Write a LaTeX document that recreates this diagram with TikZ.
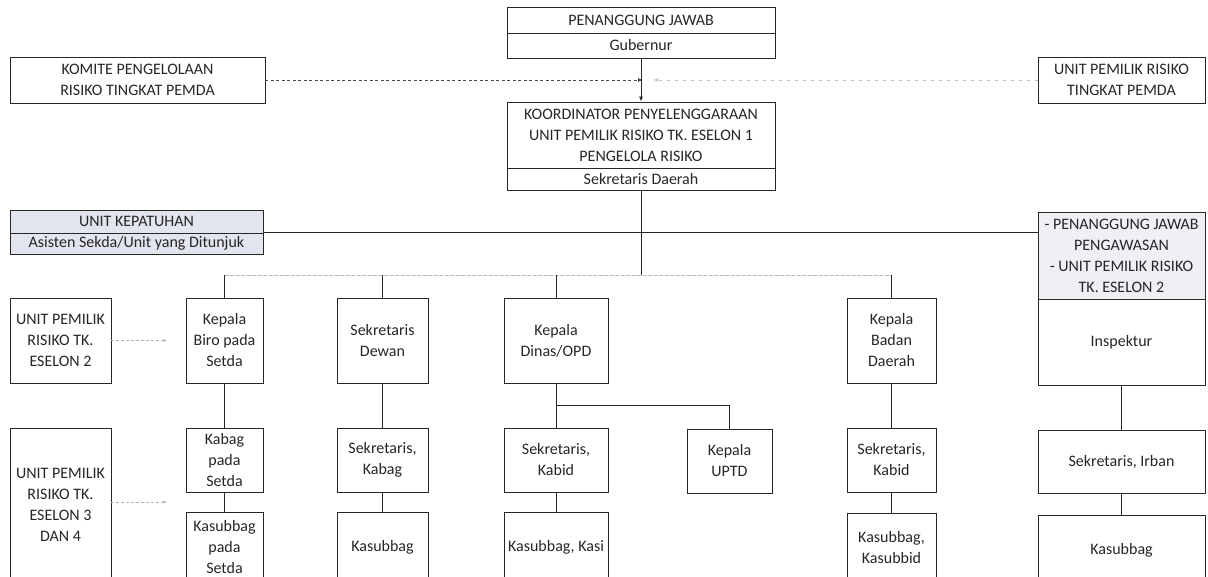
\documentclass[tikz,border=0pt]{standalone}
\usepackage{fontspec}
\setmainfont{Carlito}
\usetikzlibrary{arrows.meta}

\definecolor{inkgray}{HTML}{262626}
\definecolor{kepfill}{HTML}{E2E4EE}
\definecolor{pengfill}{HTML}{EEF0F5}

\tikzset{
  unitbox/.style={draw=inkgray, line width=0.9pt, align=center, inner sep=2pt,
    text=inkgray, font=\fontsize{16}{21}\selectfont},
  link/.style={draw=inkgray, line width=0.9pt},
  busline/.style={draw=gray!55, line width=0.7pt, dash pattern=on 4pt off 1.5pt},
  komiteline/.style={draw=inkgray!85, line width=0.8pt, dash pattern=on 3pt off 2.5pt},
  pemdaline/.style={draw=gray!45, line width=0.8pt, dash pattern=on 3pt off 5pt},
  sidearrow/.style={draw=gray!60, line width=0.7pt, dash pattern=on 2.5pt off 2.5pt,
    -{Latex[length=4pt,width=3pt]}}
}

\begin{document}
\begin{tikzpicture}[x=1pt,y=-1pt]
\useasboundingbox (0,0) rectangle (1208,577);
\clip (0,0) rectangle (1208,577);

%top
\node[unitbox, minimum width=268pt, minimum height=26pt] (pj) at (641,20) {PENANGGUNG JAWAB};
\node[unitbox, minimum width=268pt, minimum height=25pt] (gub) at (641,45.5) {Gubernur};
\node[unitbox, minimum width=255pt, minimum height=46pt] (komite) at (137.5,80) {KOMITE PENGELOLAAN\\RISIKO TINGKAT PEMDA};
\node[unitbox, minimum width=167pt, minimum height=46pt] (upr) at (1121.5,80) {UNIT PEMILIK RISIKO\\TINGKAT PEMDA};
\node[unitbox, minimum width=268pt, minimum height=66pt] (koord) at (641,135) {KOORDINATOR PENYELENGGARAAN\\UNIT PEMILIK RISIKO TK. ESELON 1\\PENGELOLA RISIKO};
\node[unitbox, minimum width=268pt, minimum height=22pt] (sekda) at (641,179) {Sekretaris Daerah};
\coordinate (komitetip) at (643,80);
\coordinate (pemdatip) at (653,80);

%middle band
\node[unitbox, fill=kepfill, minimum width=253pt, minimum height=23pt] (kep) at (136.5,221.5) {UNIT KEPATUHAN};
\node[unitbox, fill=kepfill, minimum width=253pt, minimum height=21pt] (asisten) at (136.5,243.5) {Asisten Sekda/Unit yang Ditunjuk};
\node[unitbox, fill=pengfill, minimum width=167pt, minimum height=87pt] (pengawas) at (1121.5,255.5) {- PENANGGUNG JAWAB\\PENGAWASAN\\- UNIT PEMILIK RISIKO\\TK. ESELON 2};
\node[unitbox, minimum width=167pt, minimum height=86pt] (inspektur) at (1121.5,342) {Inspektur};
\coordinate (bus) at (0,275);

%left column
\node[unitbox, minimum width=101pt, minimum height=85pt] (esl2) at (60.5,340.5) {UNIT PEMILIK\\RISIKO TK.\\ESELON 2};
\node[unitbox, minimum width=101pt, minimum height=154pt] (esl34) at (60.5,505) {UNIT PEMILIK\\RISIKO TK.\\ESELON 3\\DAN 4};
\coordinate (esl2tip) at (167,340.5);
\coordinate (esl34tip) at (167,502);

%first row
\node[unitbox, minimum width=77pt, minimum height=85pt] (biro) at (224.5,340.5) {Kepala\\Biro pada\\Setda};
\node[unitbox, minimum width=91pt, minimum height=85pt] (dewan) at (382.5,340.5) {Sekretaris\\Dewan};
\node[unitbox, minimum width=104pt, minimum height=85pt] (dinas) at (556,340.5) {Kepala\\Dinas/OPD};
\node[unitbox, minimum width=89pt, minimum height=85pt] (badan) at (891.5,340.5) {Kepala\\Badan\\Daerah};

%second row
\node[unitbox, minimum width=77pt, minimum height=64pt] (kabag) at (224.5,460) {Kabag\\pada\\Setda};
\node[unitbox, minimum width=91pt, minimum height=64pt] (dewkabag) at (382.5,460) {Sekretaris,\\Kabag};
\node[unitbox, minimum width=104pt, minimum height=64pt] (dinkabid) at (556,460) {Sekretaris,\\Kabid};
\node[unitbox, minimum width=85pt, minimum height=64pt] (uptd) at (729.5,461) {Kepala\\UPTD};
\node[unitbox, minimum width=89pt, minimum height=64pt] (badkabid) at (891.5,460) {Sekretaris,\\Kabid};
\node[unitbox, minimum width=167pt, minimum height=63pt] (irban) at (1121.5,461.5) {Sekretaris, Irban};
\coordinate (fork) at (556,405);

%third row
\node[unitbox, minimum width=77pt, minimum height=70pt] (kasubsetda) at (224.5,547) {Kasubbag\\pada\\Setda};
\node[unitbox, minimum width=91pt, minimum height=70pt] (dewkasub) at (382.5,547) {Kasubbag};
\node[unitbox, minimum width=104pt, minimum height=70pt] (dinkasub) at (556,547) {Kasubbag, Kasi};
\node[unitbox, minimum width=89pt, minimum height=70pt] (badkasub) at (891.5,548) {Kasubbag,\\Kasubbid};
\node[unitbox, minimum width=167pt, minimum height=70pt] (irbkasub) at (1121.5,550) {Kasubbag};

%connectors
\draw[link, -{Latex[length=5pt,width=4pt]}] (gub) -- (koord);
\draw[komiteline, -{Latex[length=5pt,width=4pt]}] (komite.east) -- (komitetip);
\draw[pemdaline, -{Latex[length=5pt,width=4pt]}] (upr.west) -- (pemdatip);
\draw[link] (sekda.south) -- (sekda.south |- bus);
\draw[link] (asisten.north east) -- (asisten.north east -| pengawas.west);
\draw[busline] (biro.north |- bus) -- (badan.north |- bus);
\foreach \unit in {biro,dewan,dinas,badan}
  \draw[link] (\unit.north |- bus) -- (\unit.north);
\draw[link] (biro) -- (kabag) -- (kasubsetda);
\draw[link] (dewan) -- (dewkabag) -- (dewkasub);
\draw[link] (dinas) -- (dinkabid) -- (dinkasub);
\draw[link] (fork) -| (uptd);
\draw[link] (badan) -- (badkabid) -- (badkasub);
\draw[link] (inspektur) -- (irban) -- (irbkasub);
\draw[sidearrow] (esl2.east) -- (esl2tip);
\draw[sidearrow] (esl34.east |- esl34tip) -- (esl34tip);
\end{tikzpicture}
\end{document}
